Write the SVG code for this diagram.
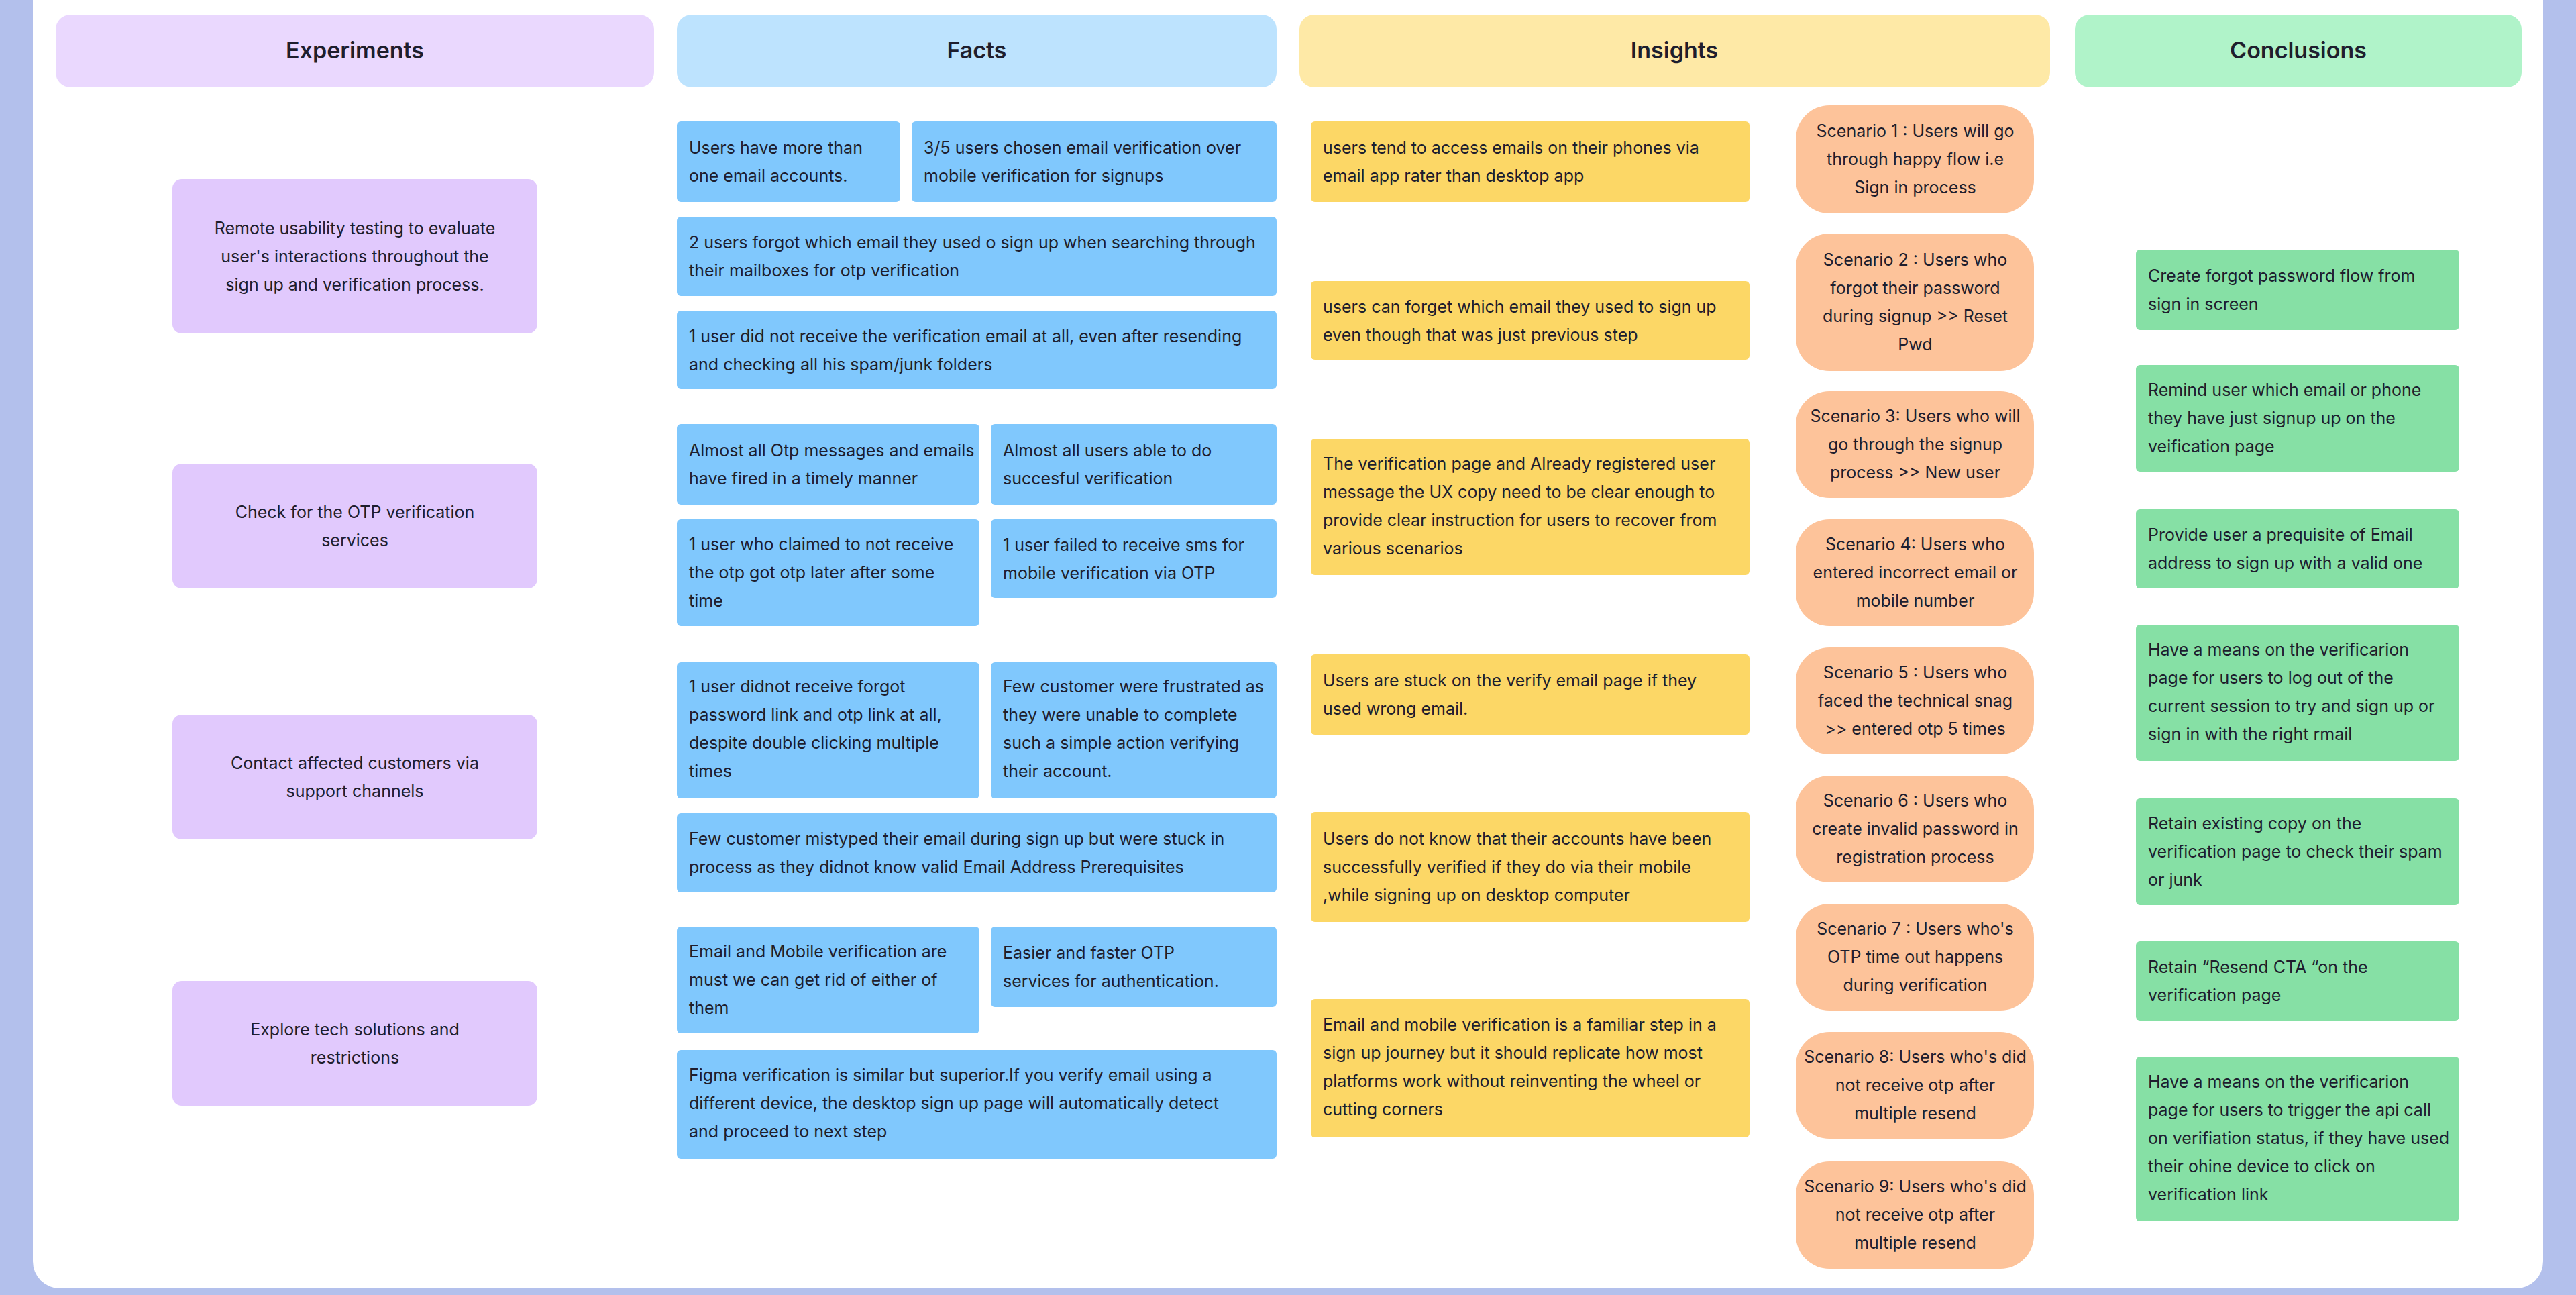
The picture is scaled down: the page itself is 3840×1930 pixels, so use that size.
<svg xmlns="http://www.w3.org/2000/svg" width="3840" height="1930" viewBox="0 0 3840 1930">
<style>
text{font-family:Inter,"Liberation Sans",sans-serif;fill:#1e1e2e;font-size:25px}
.h{font-size:34px;font-weight:600;text-anchor:middle}
.c{text-anchor:middle}
.e{fill:#e1c9fd}.f{fill:#80c8fd}.i{fill:#fcd766}.s{fill:#fdc39a}.k{fill:#86e0a5}
</style>
<rect width="3840" height="1930" fill="#b3c0ec"/>
<rect x="49" y="-40" width="3742" height="1960" rx="40" fill="#fff"/>
<g id="headers">
<g id="h-exp"><rect x="83" y="22" width="892" height="108" rx="22" fill="#ead8fe"/><text class="h" x="529" y="87">Experiments</text></g>
<g id="h-facts"><rect x="1009" y="22" width="894" height="108" rx="22" fill="#bde3fe"/><text class="h" x="1456" y="87">Facts</text></g>
<g id="h-ins"><rect x="1937" y="22" width="1119" height="108" rx="22" fill="#fee9a6"/><text class="h" x="2496" y="87">Insights</text></g>
<g id="h-con"><rect x="3093" y="22" width="666" height="108" rx="22" fill="#b0f3c9"/><text class="h" x="3426" y="87">Conclusions</text></g>
</g>
<g id="experiments">
<g id="e1"><rect class="e" x="257" y="267" width="544" height="230" rx="14"/><text class="c" x="529" y="349">Remote usability testing to evaluate</text><text class="c" x="529" y="391">user's interactions throughout the</text><text class="c" x="529" y="433">sign up and verification process.</text></g>
<g id="e2"><rect class="e" x="257" y="691" width="544" height="186" rx="14"/><text class="c" x="529" y="772">Check for the OTP verification</text><text class="c" x="529" y="814">services</text></g>
<g id="e3"><rect class="e" x="257" y="1065" width="544" height="186" rx="14"/><text class="c" x="529" y="1146">Contact affected customers via</text><text class="c" x="529" y="1188">support channels</text></g>
<g id="e4"><rect class="e" x="257" y="1462" width="544" height="186" rx="14"/><text class="c" x="529" y="1543">Explore tech solutions and</text><text class="c" x="529" y="1585">restrictions</text></g>
</g>
<g id="facts">
<g id="f1"><rect class="f" x="1009" y="181" width="333" height="120" rx="6"/><text x="1027" y="229">Users have more than</text><text x="1027" y="271">one email accounts.</text></g>
<g id="f2"><rect class="f" x="1359" y="181" width="544" height="120" rx="6"/><text x="1377" y="229">3/5 users chosen email verification over</text><text x="1377" y="271">mobile verification for signups</text></g>
<g id="f3"><rect class="f" x="1009" y="323" width="894" height="118" rx="6"/><text x="1027" y="370">2 users forgot which email they used o sign up when searching through</text><text x="1027" y="412">their mailboxes for otp verification</text></g>
<g id="f4"><rect class="f" x="1009" y="463" width="894" height="117" rx="6"/><text x="1027" y="510">1 user did not receive the verification email at all, even after resending</text><text x="1027" y="552">and checking all his spam/junk folders</text></g>
<g id="f5"><rect class="f" x="1009" y="632" width="451" height="120" rx="6"/><text x="1027" y="680">Almost all Otp messages and emails</text><text x="1027" y="722">have fired in a timely manner</text></g>
<g id="f6"><rect class="f" x="1477" y="632" width="426" height="120" rx="6"/><text x="1495" y="680">Almost all users able to do</text><text x="1495" y="722">succesful verification</text></g>
<g id="f7"><rect class="f" x="1009" y="774" width="451" height="159" rx="6"/><text x="1027" y="820">1 user who claimed to not receive</text><text x="1027" y="862">the otp got otp later after some</text><text x="1027" y="904">time</text></g>
<g id="f8"><rect class="f" x="1477" y="774" width="426" height="117" rx="6"/><text x="1495" y="821">1 user failed to receive sms for</text><text x="1495" y="863">mobile verification via OTP</text></g>
<g id="f9"><rect class="f" x="1009" y="987" width="451" height="203" rx="6"/><text x="1027" y="1032">1 user didnot receive forgot</text><text x="1027" y="1074">password link and otp link at all,</text><text x="1027" y="1116">despite double clicking multiple</text><text x="1027" y="1158">times</text></g>
<g id="f10"><rect class="f" x="1477" y="987" width="426" height="203" rx="6"/><text x="1495" y="1032">Few customer were frustrated as</text><text x="1495" y="1074">they were unable to complete</text><text x="1495" y="1116">such a simple action verifying</text><text x="1495" y="1158">their account.</text></g>
<g id="f11"><rect class="f" x="1009" y="1212" width="894" height="118" rx="6"/><text x="1027" y="1259">Few customer mistyped their email during sign up but were stuck in</text><text x="1027" y="1301">process as they didnot know valid Email Address Prerequisites</text></g>
<g id="f12"><rect class="f" x="1009" y="1381" width="451" height="159" rx="6"/><text x="1027" y="1427">Email and Mobile verification are</text><text x="1027" y="1469">must we can get rid of either of</text><text x="1027" y="1511">them</text></g>
<g id="f13"><rect class="f" x="1477" y="1381" width="426" height="120" rx="6"/><text x="1495" y="1429">Easier and faster OTP</text><text x="1495" y="1471">services for authentication.</text></g>
<g id="f14"><rect class="f" x="1009" y="1565" width="894" height="162" rx="6"/><text x="1027" y="1611">Figma verification is similar but superior.If you verify email using a</text><text x="1027" y="1653">different device, the desktop sign up page will automatically detect</text><text x="1027" y="1695">and proceed to next step</text></g>
</g>
<g id="insights">
<g id="i1"><rect class="i" x="1954" y="181" width="654" height="120" rx="6"/><text x="1972" y="229">users tend to access emails on their phones via</text><text x="1972" y="271">email app rater than desktop app</text></g>
<g id="i2"><rect class="i" x="1954" y="419" width="654" height="117" rx="6"/><text x="1972" y="466">users can forget which email they used to sign up</text><text x="1972" y="508">even though that was just previous step</text></g>
<g id="i3"><rect class="i" x="1954" y="654" width="654" height="203" rx="6"/><text x="1972" y="700">The verification page and Already registered user</text><text x="1972" y="742">message the UX copy need to be clear enough to</text><text x="1972" y="784">provide clear instruction for users to recover from</text><text x="1972" y="826">various scenarios</text></g>
<g id="i4"><rect class="i" x="1954" y="975" width="654" height="120" rx="6"/><text x="1972" y="1023">Users are stuck on the verify email page if they</text><text x="1972" y="1065">used wrong email.</text></g>
<g id="i5"><rect class="i" x="1954" y="1210" width="654" height="164" rx="6"/><text x="1972" y="1259">Users do not know that their accounts have been</text><text x="1972" y="1301">successfully verified if they do via their mobile</text><text x="1972" y="1343">,while signing up on desktop computer</text></g>
<g id="i6"><rect class="i" x="1954" y="1489" width="654" height="206" rx="6"/><text x="1972" y="1536">Email and mobile verification is a familiar step in a</text><text x="1972" y="1578">sign up journey but it should replicate how most</text><text x="1972" y="1620">platforms work without reinventing the wheel or</text><text x="1972" y="1662">cutting corners</text></g>
</g>
<g id="scenarios">
<g id="s1"><rect class="s" x="2677" y="157" width="355" height="161" rx="50"/><text class="c" x="2855" y="204">Scenario 1 : Users will go</text><text class="c" x="2855" y="246">through happy flow i.e</text><text class="c" x="2855" y="288">Sign in process</text></g>
<g id="s2"><rect class="s" x="2677" y="348" width="355" height="205" rx="50"/><text class="c" x="2855" y="396">Scenario 2 : Users who</text><text class="c" x="2855" y="438">forgot their password</text><text class="c" x="2855" y="480">during signup &gt;&gt; Reset</text><text class="c" x="2855" y="522">Pwd</text></g>
<g id="s3"><rect class="s" x="2677" y="583" width="355" height="159" rx="50"/><text class="c" x="2855" y="629">Scenario 3: Users who will</text><text class="c" x="2855" y="671">go through the signup</text><text class="c" x="2855" y="713">process &gt;&gt; New user</text></g>
<g id="s4"><rect class="s" x="2677" y="774" width="355" height="159" rx="50"/><text class="c" x="2855" y="820">Scenario 4: Users who</text><text class="c" x="2855" y="862">entered incorrect email or</text><text class="c" x="2855" y="904">mobile number</text></g>
<g id="s5"><rect class="s" x="2677" y="965" width="355" height="159" rx="50"/><text class="c" x="2855" y="1011">Scenario 5 : Users who</text><text class="c" x="2855" y="1053">faced the technical snag</text><text class="c" x="2855" y="1095">&gt;&gt; entered otp 5 times</text></g>
<g id="s6"><rect class="s" x="2677" y="1156" width="355" height="159" rx="50"/><text class="c" x="2855" y="1202">Scenario 6 : Users who</text><text class="c" x="2855" y="1244">create invalid password in</text><text class="c" x="2855" y="1286">registration process</text></g>
<g id="s7"><rect class="s" x="2677" y="1347" width="355" height="159" rx="50"/><text class="c" x="2855" y="1393">Scenario 7 : Users who's</text><text class="c" x="2855" y="1435">OTP time out happens</text><text class="c" x="2855" y="1477">during verification</text></g>
<g id="s8"><rect class="s" x="2677" y="1538" width="355" height="159" rx="50"/><text class="c" x="2855" y="1584">Scenario 8: Users who's did</text><text class="c" x="2855" y="1626">not receive otp after</text><text class="c" x="2855" y="1668">multiple resend</text></g>
<g id="s9"><rect class="s" x="2677" y="1731" width="355" height="160" rx="50"/><text class="c" x="2855" y="1777">Scenario 9: Users who's did</text><text class="c" x="2855" y="1819">not receive otp after</text><text class="c" x="2855" y="1861">multiple resend</text></g>
</g>
<g id="conclusions">
<g id="c1"><rect class="k" x="3184" y="372" width="482" height="120" rx="6"/><text x="3202" y="420">Create forgot password flow from</text><text x="3202" y="462">sign in screen</text></g>
<g id="c2"><rect class="k" x="3184" y="544" width="482" height="159" rx="6"/><text x="3202" y="590">Remind user which email or phone</text><text x="3202" y="632">they have just signup up on the</text><text x="3202" y="674">veification page</text></g>
<g id="c3"><rect class="k" x="3184" y="759" width="482" height="118" rx="6"/><text x="3202" y="806">Provide user a prequisite of  Email</text><text x="3202" y="848">address to sign up with a valid one</text></g>
<g id="c4"><rect class="k" x="3184" y="931" width="482" height="203" rx="6"/><text x="3202" y="977">Have a means on the verificarion</text><text x="3202" y="1019">page for users to log out of the</text><text x="3202" y="1061">current session to try and sign up or</text><text x="3202" y="1103">sign in with the right rmail</text></g>
<g id="c5"><rect class="k" x="3184" y="1190" width="482" height="159" rx="6"/><text x="3202" y="1236">Retain existing copy on the</text><text x="3202" y="1278">verification page to check their spam</text><text x="3202" y="1320">or junk</text></g>
<g id="c6"><rect class="k" x="3184" y="1403" width="482" height="118" rx="6"/><text x="3202" y="1450">Retain “Resend CTA “on the</text><text x="3202" y="1492">verification page</text></g>
<g id="c7"><rect class="k" x="3184" y="1575" width="482" height="245" rx="6"/><text x="3202" y="1621">Have a means on the verificarion</text><text x="3202" y="1663">page for users to trigger the api call</text><text x="3202" y="1705">on verifiation status, if they have used</text><text x="3202" y="1747">their ohine device to click on</text><text x="3202" y="1789">verification link</text></g>
</g>
<g id="connectors"/>
</svg>
